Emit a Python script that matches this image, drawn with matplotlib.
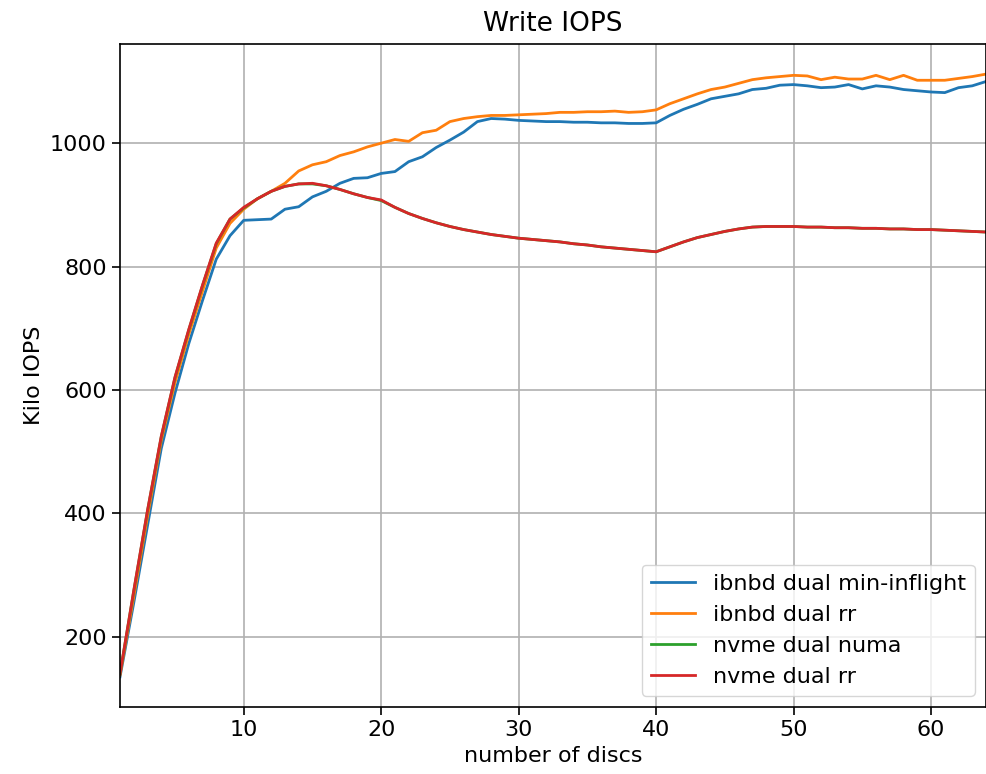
import matplotlib
matplotlib.use("Agg")
import matplotlib.pyplot as plt

discs = list(range(1, 65))

ibnbd_min_inflight = [135, 255, 380, 505, 595, 675, 745, 812, 850, 875,
                      876, 877, 893, 897, 913, 922, 935, 943, 944, 951,
                      954, 970, 978, 993, 1005, 1018, 1035, 1040, 1039, 1037,
                      1036, 1035, 1035, 1034, 1034, 1033, 1033, 1032, 1032, 1033,
                      1045, 1055, 1063, 1072, 1076, 1080, 1087, 1089, 1094, 1095,
                      1093, 1090, 1091, 1095, 1088, 1093, 1091, 1087, 1085, 1083,
                      1082, 1090, 1093, 1100]

ibnbd_rr = [138, 265, 395, 518, 612, 690, 760, 830, 870, 893,
            910, 922, 935, 955, 965, 970, 980, 986, 994, 1000,
            1006, 1003, 1017, 1021, 1035, 1040, 1043, 1045, 1045, 1046,
            1047, 1048, 1050, 1050, 1051, 1051, 1052, 1050, 1051, 1054,
            1064, 1072, 1080, 1087, 1091, 1097, 1103, 1106, 1108, 1110,
            1109, 1103, 1107, 1104, 1104, 1110, 1103, 1110, 1102, 1102,
            1102, 1105, 1108, 1112]

nvme_numa = [140, 274, 404, 524, 620, 697, 769, 837, 877, 895,
             910, 922, 930, 934, 934, 931, 925, 918, 912, 907,
             896, 886, 878, 871, 865, 860, 856, 852, 849, 846,
             844, 842, 840, 837, 835, 832, 830, 828, 826, 824,
             832, 840, 847, 852, 857, 861, 864, 865, 865, 865,
             864, 864, 863, 863, 862, 862, 861, 861, 860, 860,
             859, 858, 857, 856]

nvme_rr = [140, 275, 405, 525, 621, 698, 770, 838, 877, 896,
           910, 922, 930, 934, 935, 931, 925, 918, 912, 908,
           896, 886, 878, 871, 865, 860, 856, 852, 849, 846,
           844, 842, 840, 837, 835, 832, 830, 828, 826, 824,
           832, 840, 847, 852, 857, 861, 864, 865, 865, 865,
           864, 864, 863, 863, 862, 862, 861, 861, 860, 860,
           859, 858, 857, 856]

series_labels = ["ibnbd dual min-inflight", "ibnbd dual rr",
                 "nvme dual numa", "nvme dual rr"]

plt.rcParams['font.size'] = 16

fig = plt.figure(figsize=(9.87, 7.74), dpi=100)
ax = fig.add_axes([0.1216, 0.0866, 0.8774, 0.8566])

lw = 2.0
ax.plot(discs, ibnbd_min_inflight, color='tab:blue', lw=lw, label=series_labels[0])
ax.plot(discs, ibnbd_rr, color='tab:orange', lw=lw, label=series_labels[1])
ax.plot(discs, nvme_numa, color='tab:green', lw=lw, label=series_labels[2])
ax.plot(discs, nvme_rr, color='tab:red', lw=lw, label=series_labels[3])

ax.set_xlim(1, 64)
ax.set_xticks([10, 20, 30, 40, 50, 60])
ax.set_yticks([200, 400, 600, 800, 1000])
ax.grid(True, color='#b0b0b0', lw=1.2)
ax.tick_params(labelsize=16, length=6, width=1.2)
for s in ax.spines.values():
    s.set_linewidth(1.2)

ax.set_title("Write IOPS", fontsize=19, pad=9)
ax.set_xlabel("number of discs", fontsize=16, labelpad=4)
ax.set_ylabel("Kilo IOPS", fontsize=16)
ax.legend(loc='lower right', fontsize=16)

fig.savefig("out.png", dpi=100)
